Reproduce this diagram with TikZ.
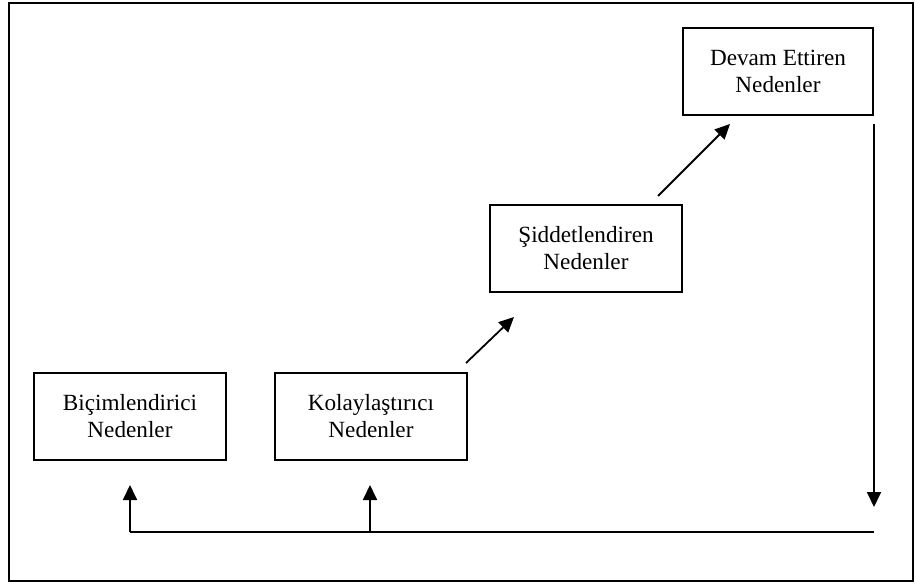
\documentclass[tikz,border=0pt]{standalone}
\usepackage{fontspec}
\setmainfont{Liberation Serif}
\usetikzlibrary{arrows.meta}
\tikzset{
  causebox/.style={draw, line width=1.8pt, minimum width=192pt, minimum height=87pt,
    align=center, inner sep=0pt, font=\fontsize{23.2pt}{27pt}\selectfont},
  link/.style={line width=1.8pt},
  arr/.style={link, -{Triangle[length=15pt,width=14pt]}}
}
\begin{document}
\begin{tikzpicture}[x=1pt,y=-1pt]
  \useasboundingbox (0,0) rectangle (916,586);
  \draw[line width=2.2pt] (9,3) rectangle (913,581);

  \node[causebox] (bic) at (130,416.5) {Biçimlendirici\\Nedenler};
  \node[causebox] (kol) at (371,416.5) {Kolaylaştırıcı\\Nedenler};
  \node[causebox] (sid) at (586,248.5) {Şiddetlendiren\\Nedenler};
  \node[causebox, minimum width=190pt] (dev) at (778,71.5) {Devam Ettiren\\Nedenler};

  \coordinate (a1s) at (466,363);
  \coordinate (a1e) at (514,317);
  \coordinate (a2s) at (658,196);
  \coordinate (a2e) at (730,124);
  \draw[arr] (a1s) -- (a1e);
  \draw[arr] (a2s) -- (a2e);

  \coordinate (vtop) at (874,124);
  \coordinate (vtip) at (874,507);
  \coordinate (hr) at (874,532);
  \coordinate (hl) at (130,532);
  \coordinate (hm) at (370,532);
  \coordinate (bictip) at (130,485);
  \coordinate (koltip) at (370,485);

  \draw[arr] (vtop) -- (vtip);
  \draw[link] (hr) -- (hl);
  \draw[arr] (hl) -- (bictip);
  \draw[arr] (hm) -- (koltip);
\end{tikzpicture}
\end{document}
